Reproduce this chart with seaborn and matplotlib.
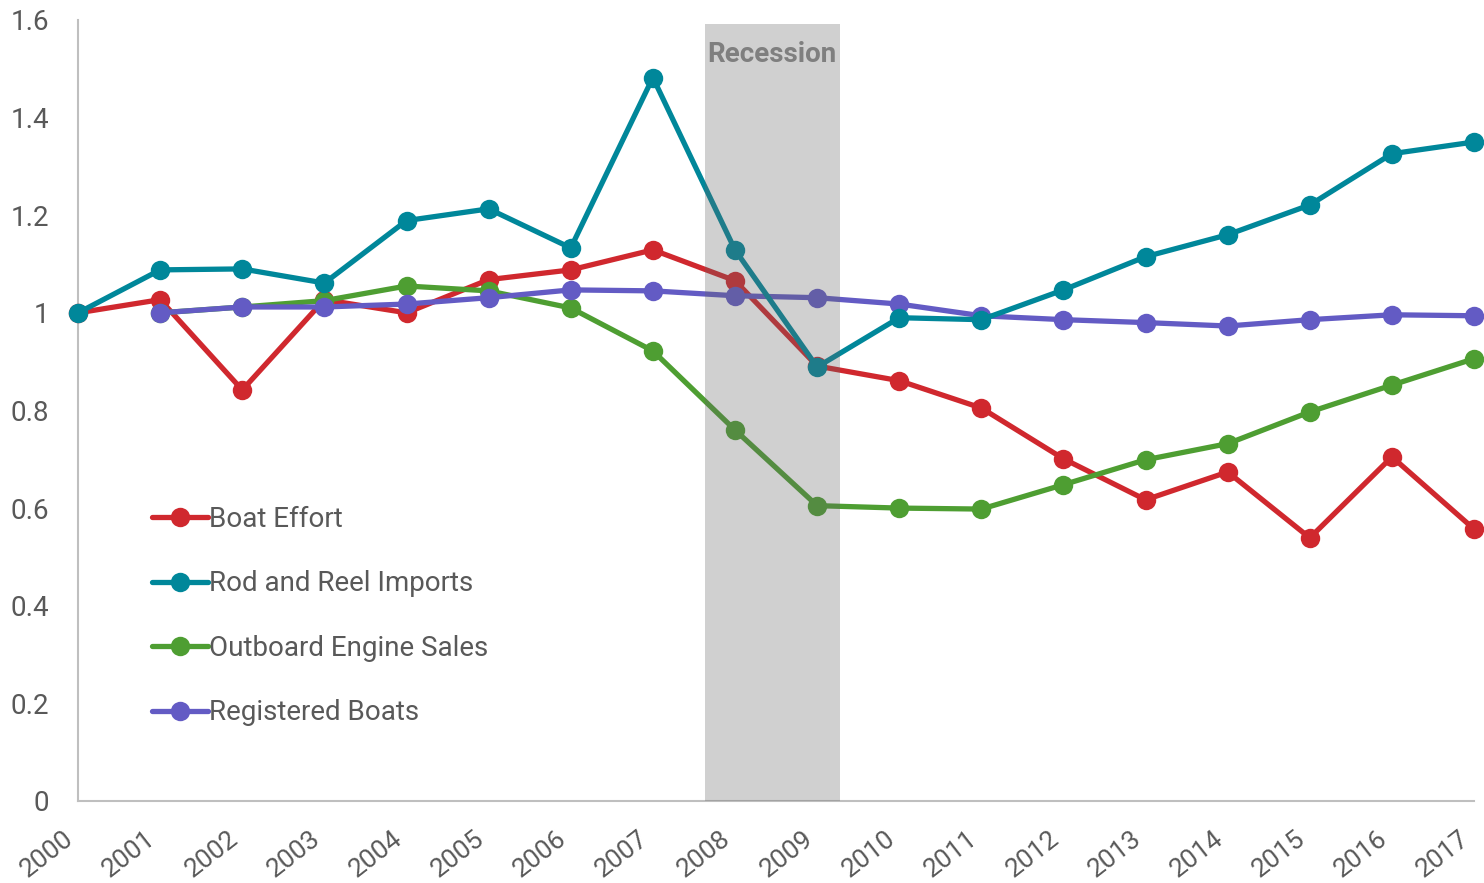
import pandas as pd
import matplotlib.pyplot as plt
import seaborn as sns

# values (index, 2000 = 1)
years = list(range(2000, 2018))
boat_effort = [1.0, 1.027, 0.842, 1.027, 1.0, 1.068, 1.088, 1.129, 1.066, 0.891,
               0.861, 0.805, 0.701, 0.617, 0.674, 0.539, 0.705, 0.557]
rod_reel = [1.0, 1.088, 1.090, 1.061, 1.189, 1.213, 1.133, 1.482, 1.129, 0.889,
            0.990, 0.986, 1.047, 1.115, 1.160, 1.221, 1.326, 1.350]
outboard = [None, 1.0, 1.012, 1.025, 1.055, 1.045, 1.010, 0.922, 0.760, 0.605,
            0.600, 0.598, 0.648, 0.699, 0.732, 0.797, 0.852, 0.906]
registered = [None, 1.0, 1.012, 1.012, 1.018, 1.031, 1.047, 1.045, 1.035, 1.031,
              1.018, 0.994, 0.986, 0.980, 0.973, 0.986, 0.996, 0.994]

series = {
    "Boat Effort": (boat_effort, "#D0282E"),
    "Rod and Reel Imports": (rod_reel, "#00879A"),
    "Outboard Engine Sales": (outboard, "#4E9E32"),
    "Registered Boats": (registered, "#635BC4"),
}
draw_order = ["Boat Effort", "Outboard Engine Sales", "Registered Boats", "Rod and Reel Imports"]

y_ticks = [0, 0.2, 0.4, 0.6, 0.8, 1.0, 1.2, 1.4, 1.6]
y_labels = ["0", "0.2", "0.4", "0.6", "0.8", "1", "1.2", "1.4", "1.6"]

recession_start, recession_end = 2007.63, 2009.28

sns.set_style("white")
plt.rcParams["font.family"] = ["Roboto", "DejaVu Sans"]

fig = plt.figure(figsize=(14.84, 8.83), dpi=100)
ax = fig.add_axes([0.0526, 0.0929, 0.9407, 0.8845])

for i, name in enumerate(draw_order):
    vals, col = series[name]
    df = pd.DataFrame({"year": years, "value": vals}).dropna()
    sns.lineplot(data=df, x="year", y="value", ax=ax, color=col, linewidth=3.8,
                 marker="o", markersize=14, markeredgewidth=0, label=name,
                 zorder=3 + i, clip_on=False)

# recession shading drawn over the lines
ax.axvspan(recession_start, recession_end, ymin=0, ymax=1.592 / 1.6,
           color="#656565", alpha=0.3, lw=0, zorder=10)
ax.text((recession_start + recession_end) / 2, 1.53, "Recession", ha="center",
        va="center", fontsize=20, fontweight="bold", color="#7F7F7F", zorder=11)

ax.set_xlim(2000, 2017)
ax.set_ylim(0, 1.6)
ax.set_xticks(years)
# anchor at the bottom-right corner so the rotated text never passes the tick
ax.set_xticklabels([str(y) for y in years], rotation=38, ha="right", va="bottom",
                   rotation_mode="anchor", fontsize=19, color="#595959")
ax.set_yticks(y_ticks)
ax.set_yticklabels(y_labels, fontsize=20, color="#595959")
ax.tick_params(axis="both", length=0)
ax.tick_params(axis="x", pad=32)
ax.tick_params(axis="y", pad=21)
ax.set_xlabel("")
ax.set_ylabel("")
for side in ["top", "right"]:
    ax.spines[side].set_visible(False)
for side in ["left", "bottom"]:
    ax.spines[side].set_color("#BFBFBF")
    ax.spines[side].set_linewidth(1.5)

h, l = ax.get_legend_handles_labels()
lookup = dict(zip(l, h))
names = list(series.keys())
leg = ax.legend([lookup[n] for n in names], names, loc="upper left",
                bbox_to_anchor=(0.045, 0.392), frameon=False, fontsize=20,
                handlelength=2.0, handletextpad=0.05, labelspacing=1.35,
                borderaxespad=0)
for t in leg.get_texts():
    t.set_color("#595959")

fig.savefig("out.png", dpi=100)
